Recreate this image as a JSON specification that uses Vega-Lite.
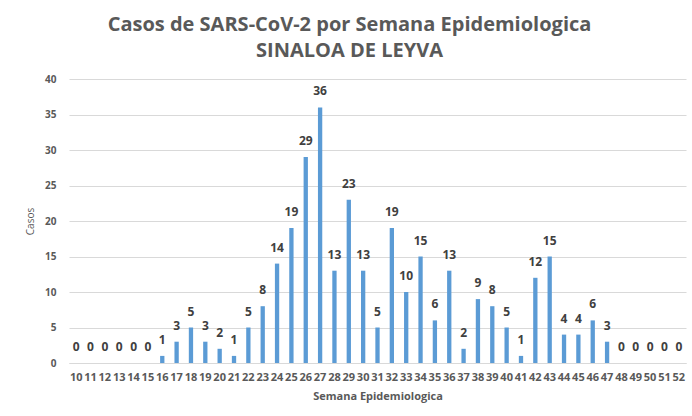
{
  "$schema": "https://vega.github.io/schema/vega-lite/v6.json",
  "width": 617,
  "height": 284,
  "autosize": {"type": "none"},
  "padding": {"left": 69, "top": 79, "right": 6, "bottom": 53},
  "background": "white",
  "config": {
    "view": {"stroke": null},
    "font": "Open Sans"
  },
  "title": {
    "text": ["Casos de SARS-CoV-2 por Semana Epidemiologica", "SINALOA DE LEYVA"],
    "font": "Open Sans",
    "fontSize": 20,
    "fontWeight": "bold",
    "color": "#595959",
    "anchor": "middle",
    "dx": -28,
    "offset": 13,
    "lineHeight": 26
  },
  "data": {
    "values": [
      {"semana": "10", "casos": 0}, {"semana": "11", "casos": 0}, {"semana": "12", "casos": 0},
      {"semana": "13", "casos": 0}, {"semana": "14", "casos": 0}, {"semana": "15", "casos": 0},
      {"semana": "16", "casos": 1}, {"semana": "17", "casos": 3}, {"semana": "18", "casos": 5},
      {"semana": "19", "casos": 3}, {"semana": "20", "casos": 2}, {"semana": "21", "casos": 1},
      {"semana": "22", "casos": 5}, {"semana": "23", "casos": 8}, {"semana": "24", "casos": 14},
      {"semana": "25", "casos": 19}, {"semana": "26", "casos": 29}, {"semana": "27", "casos": 36},
      {"semana": "28", "casos": 13}, {"semana": "29", "casos": 23}, {"semana": "30", "casos": 13},
      {"semana": "31", "casos": 5}, {"semana": "32", "casos": 19}, {"semana": "33", "casos": 10},
      {"semana": "34", "casos": 15}, {"semana": "35", "casos": 6}, {"semana": "36", "casos": 13},
      {"semana": "37", "casos": 2}, {"semana": "38", "casos": 9}, {"semana": "39", "casos": 8},
      {"semana": "40", "casos": 5}, {"semana": "41", "casos": 1}, {"semana": "42", "casos": 12},
      {"semana": "43", "casos": 15}, {"semana": "44", "casos": 4}, {"semana": "45", "casos": 4},
      {"semana": "46", "casos": 6}, {"semana": "47", "casos": 3}, {"semana": "48", "casos": 0},
      {"semana": "49", "casos": 0}, {"semana": "50", "casos": 0}, {"semana": "51", "casos": 0},
      {"semana": "52", "casos": 0}
    ]
  },
  "encoding": {
    "x": {
      "field": "semana",
      "type": "ordinal",
      "sort": null,
      "scale": {"paddingInner": 0.7, "paddingOuter": 0.35},
      "axis": {
        "title": "Semana Epidemiologica",
        "titleFont": "Open Sans",
        "titleFontSize": 11,
        "titleFontWeight": "bold",
        "titleColor": "#595959",
        "titlePadding": 8,
        "labelAngle": 0,
        "labelFont": "Open Sans",
        "labelFontSize": 11,
        "labelFontWeight": "bold",
        "labelColor": "#595959",
        "labelOverlap": false,
        "labelPadding": 8,
        "ticks": false,
        "domain": true,
        "domainColor": "#D9D9D9"
      }
    },
    "y": {
      "field": "casos",
      "type": "quantitative",
      "scale": {"domain": [0, 40], "nice": false},
      "axis": {
        "title": "Casos",
        "titleFont": "Open Sans",
        "titleFontSize": 10,
        "titleFontWeight": "normal",
        "titleColor": "#595959",
        "titlePadding": 9,
        "values": [0, 5, 10, 15, 20, 25, 30, 35, 40],
        "labelFont": "Open Sans",
        "labelFontSize": 10,
        "labelFontWeight": "bold",
        "labelColor": "#595959",
        "labelPadding": 13,
        "ticks": false,
        "domain": false,
        "gridColor": "#D9D9D9",
        "gridWidth": 1
      }
    }
  },
  "layer": [
    {"mark": {"type": "bar", "color": "#5B9BD5"}},
    {
      "mark": {
        "type": "text",
        "dy": -9,
        "baseline": "bottom",
        "font": "Open Sans",
        "fontSize": 12,
        "fontWeight": "bold",
        "color": "#404040"
      },
      "encoding": {"text": {"field": "casos", "type": "quantitative"}}
    }
  ]
}
